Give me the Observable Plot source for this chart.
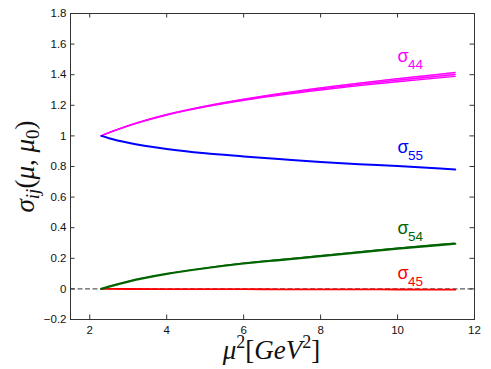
<!DOCTYPE html>
<html><head><meta charset="utf-8">
<script src="https://cdn.jsdelivr.net/npm/d3@7"></script>
<script src="https://cdn.jsdelivr.net/npm/@observablehq/plot@0.6"></script>
<style>body{margin:0;background:#fff}</style>
</head><body><div id="chart"></div>
<script>
const mu2 = [2.3, 2.5, 3, 4, 5, 6, 7, 8, 9, 10, 11, 11.5];
const s44 = [1.0, 1.021, 1.066, 1.138, 1.192, 1.236, 1.274, 1.307, 1.337, 1.364, 1.389, 1.402];
const s44w = [0, 0.001, 0.002, 0.004, 0.006, 0.008, 0.011, 0.014, 0.017, 0.02, 0.024, 0.026];
const s55 = [1.0, 0.985, 0.955, 0.914, 0.886, 0.866, 0.847, 0.829, 0.815, 0.803, 0.788, 0.78];
const s54 = [0.0, 0.015, 0.048, 0.098, 0.135, 0.166, 0.19, 0.214, 0.239, 0.263, 0.285, 0.295];
const s54w = [0, 0.001, 0.002, 0.003, 0.004, 0.005, 0.006, 0.007, 0.008, 0.009, 0.01, 0.011];
const s45 = [0.0, 0.0, -0.0005, -0.001, -0.0015, -0.002, -0.0025, -0.003, -0.0035, -0.004, -0.0045, -0.005];
const xTicks = [2, 4, 6, 8, 10, 12];
const yTicks = [-0.2, 0, 0.2, 0.4, 0.6, 0.8, 1, 1.2, 1.4, 1.6, 1.8];
const seriesNames = ["44", "55", "54", "45"];
const seriesColors = ["#ff00ff", "#0000ff", "#006400", "#ff0000"];
const labelX = [10.0, 10.0, 10.0, 10.0];
const labelY = [1.522, 0.927, 0.398, 0.101];

const W = 491, H = 369, mL = 70, mR = 17, mT = 13, mB = 50;
const xDom = [1.5, 12], yDom = [-0.2, 1.8];
const tx = 4.5 * (xDom[1] - xDom[0]) / (W - mL - mR);
const ty = 4.5 * (yDom[1] - yDom[0]) / (H - mT - mB);

const rows = (ys) => mu2.map((x, i) => ({x, y: ys[i]}));
const bandOf = (ys, ws) => mu2.map((x, i) => ({x, y1: ys[i] - ws[i] / 2, y2: ys[i] + ws[i] / 2}));
const labels = seriesNames.map((n, i) => ({n, x: labelX[i], y: labelY[i], c: seriesColors[i]}));
const fmt = d => String(d).replace("-", "\u2212");
const C = "monotone-x";
const tk = {stroke: "#333", strokeWidth: 1};

const plot = Plot.plot({
  width: W, height: H,
  marginLeft: mL, marginRight: mR, marginTop: mT, marginBottom: mB,
  style: {fontFamily: "Liberation Sans, Arial, sans-serif", fontSize: "11.5px", color: "#111"},
  x: {domain: xDom, ticks: xTicks},
  y: {domain: yDom, ticks: yTicks},
  marks: [
    Plot.ruleY([0], {stroke: "#333", strokeDasharray: "5,2.5", strokeWidth: 1}),
    Plot.areaY(bandOf(s44, s44w), {x: "x", y1: "y1", y2: "y2", fill: "#ff00ff", fillOpacity: 0.45, curve: C}),
    Plot.line(rows(s44.map((v, i) => v - s44w[i] / 2)), {x: "x", y: "y", stroke: "#ff00ff", strokeWidth: 1.3, curve: C}),
    Plot.line(rows(s44.map((v, i) => v + s44w[i] / 2)), {x: "x", y: "y", stroke: "#ff00ff", strokeWidth: 1.3, curve: C}),
    Plot.line(rows(s44), {x: "x", y: "y", stroke: "#ff00ff", strokeWidth: 1.3, curve: C}),
    Plot.line(rows(s55), {x: "x", y: "y", stroke: "#0000ff", strokeWidth: 2, curve: C}),
    Plot.line(rows(s45), {x: "x", y: "y", stroke: "#ff0000", strokeWidth: 1.8, curve: C}),
    Plot.areaY(bandOf(s54, s54w), {x: "x", y1: "y1", y2: "y2", fill: "#006400", curve: C}),
    Plot.line(rows(s54), {x: "x", y: "y", stroke: "#006400", strokeWidth: 2.2, curve: C}),
    Plot.text(labels, {x: "x", y: "y", text: () => "\u03c3", fill: "c", fontSize: 18, textAnchor: "start"}),
    Plot.text(labels, {x: "x", y: "y", text: "n", fill: "c", fontSize: 13.5, textAnchor: "start", dx: 10.5, dy: 8.5}),
    Plot.ruleX(xTicks, {x: d => d, y1: yDom[0], y2: yDom[0] + ty, ...tk}),
    Plot.ruleX(xTicks, {x: d => d, y1: yDom[1] - ty, y2: yDom[1], ...tk}),
    Plot.ruleY(yTicks, {y: d => d, x1: xDom[0], x2: xDom[0] + tx, ...tk}),
    Plot.ruleY(yTicks, {y: d => d, x1: xDom[1] - tx, x2: xDom[1], ...tk}),
    Plot.frame({stroke: "#333", strokeWidth: 1}),
    Plot.axisX({anchor: "bottom", ticks: xTicks, tickSize: 0, tickPadding: 6, label: null, tickFormat: fmt}),
    Plot.axisY({anchor: "left", ticks: yTicks, tickSize: 0, tickPadding: 4, label: null, tickFormat: fmt})
  ]
});
document.getElementById("chart").appendChild(plot);

const svg = d3.select(plot);
const serif = "'Liberation Serif', 'DejaVu Serif', serif";
// y label
const yl = svg.append("text")
  .attr("transform", "translate(34,166.5) rotate(-90)")
  .attr("text-anchor", "middle")
  .attr("font-family", serif).attr("font-size", 27).attr("fill", "#111");
yl.append("tspan").attr("font-style", "italic").text("\u03c3");
yl.append("tspan").attr("font-style", "italic").attr("font-size", 19).attr("dy", 5).text("ij");
yl.append("tspan").attr("dy", -5).text("(");
yl.append("tspan").attr("font-style", "italic").text("\u03bc");
yl.append("tspan").text(", ");
yl.append("tspan").attr("font-style", "italic").text("\u03bc");
yl.append("tspan").attr("font-size", 19).attr("dy", 5).text("0");
yl.append("tspan").attr("dy", -5).text(")");
// x label
const xl = svg.append("text")
  .attr("x", 271.5).attr("y", 359)
  .attr("text-anchor", "middle")
  .attr("font-family", serif).attr("font-size", 27).attr("fill", "#111");
xl.append("tspan").attr("font-style", "italic").text("\u03bc");
xl.append("tspan").attr("font-size", 18).attr("dy", -11).text("2");
xl.append("tspan").attr("dy", 11).text("[");
xl.append("tspan").attr("font-style", "italic").text("GeV");
xl.append("tspan").attr("font-size", 18).attr("dy", -11).text("2");
xl.append("tspan").attr("dy", 11).text("]");
</script>
</body></html>
